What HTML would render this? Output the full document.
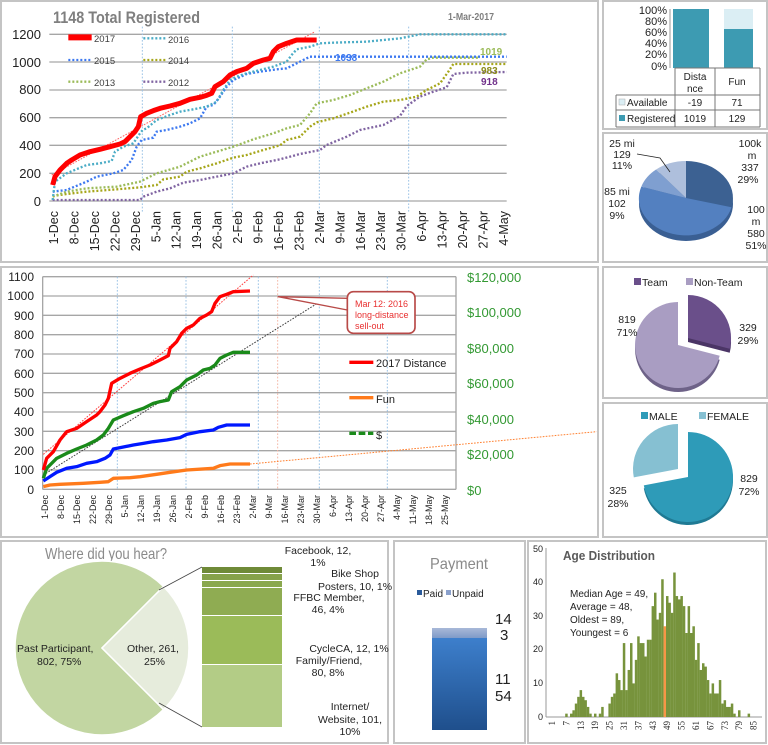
<!DOCTYPE html>
<html><head><meta charset="utf-8"><style>
html,body{margin:0;padding:0;background:#fff;}
svg{display:block;font-family:"Liberation Sans",sans-serif;}
</style></head><body>
<svg id="s" width="768" height="745" viewBox="0 0 768 745" xmlns="http://www.w3.org/2000/svg">
<g fill="none" stroke="#c4c4c4" stroke-width="2">
<rect x="1" y="1" width="597" height="261"/>
<rect x="1" y="267" width="597" height="270"/>
<rect x="603" y="1" width="164" height="128"/>
<rect x="603" y="133" width="164" height="129"/>
<rect x="603" y="267" width="164" height="131"/>
<rect x="603" y="403" width="164" height="134"/>
<rect x="1" y="541" width="387" height="202"/>
<rect x="394" y="541" width="131" height="202"/>
<rect x="528" y="541" width="238" height="202"/>
</g>

<text x="53" y="23" font-size="17" font-weight="bold" fill="#7f7f7f" textLength="147" lengthAdjust="spacingAndGlyphs">1148 Total Registered</text>
<text x="448" y="20" font-size="10" font-weight="bold" fill="#7f7f7f" textLength="46" lengthAdjust="spacingAndGlyphs">1-Mar-2017</text>
<g transform="scale(0.33333)">
 <g stroke="#a6a6a6" stroke-width="4">
  <line x1="148" y1="103" x2="1520" y2="103"/><line x1="148" y1="186" x2="1520" y2="186"/>
  <line x1="148" y1="270" x2="1520" y2="270"/><line x1="148" y1="353" x2="1520" y2="353"/>
  <line x1="148" y1="436" x2="1520" y2="436"/><line x1="148" y1="520" x2="1520" y2="520"/>
  <line x1="148" y1="603" x2="1520" y2="603"/>
 </g>
 <g stroke="#9cc3e6" stroke-width="3" stroke-dasharray="5 5">
  <line x1="427" y1="80" x2="427" y2="640"/><line x1="697" y1="80" x2="697" y2="640"/>
  <line x1="958" y1="80" x2="958" y2="640"/><line x1="1226" y1="80" x2="1226" y2="640"/>
 </g>
 <g fill="none" stroke-width="7" stroke-dasharray="6 6">
  <polyline stroke="#8064a2" points="158,600 420,600 430,590 470,575 510,565 550,548 600,540 650,530 700,520 740,500 780,490 840,478 900,462 960,450 980,435 1040,410 1080,390 1150,375 1200,348 1220,318 1260,290 1300,275 1340,262 1360,222 1400,218 1520,216"/>
  <polyline stroke="#a6a61a" points="158,588 200,582 260,575 350,568 420,562 470,555 490,538 540,530 560,515 600,505 650,490 700,473 740,465 790,450 840,436 860,420 900,410 930,380 950,367 1000,355 1050,338 1100,320 1150,305 1200,300 1250,290 1280,270 1320,250 1345,215 1360,192 1520,192"/>
  <polyline stroke="#9bbb59" points="158,590 200,575 260,565 350,560 420,545 470,520 540,500 600,470 650,455 700,440 760,418 820,400 860,385 900,375 930,340 950,310 1000,300 1050,285 1100,265 1150,245 1200,220 1260,200 1280,178 1300,173 1440,173"/>
  <polyline stroke="#3c78f0" points="158,575 200,570 260,545 290,530 340,520 370,510 395,480 410,440 425,420 460,413 470,395 500,390 540,380 570,370 600,355 620,320 640,315 660,290 680,260 700,240 740,222 780,215 830,208 860,205 900,185 930,170 1520,170"/>
  <polyline stroke="#4bacc6" points="158,600 165,545 200,520 260,495 300,490 335,483 345,455 370,440 400,430 420,400 428,390 440,385 470,360 510,345 540,335 580,328 620,320 650,305 670,270 690,240 710,230 740,220 780,210 820,200 860,185 875,165 890,148 930,140 960,130 1000,128 1100,125 1200,115 1260,103 1520,103"/>
 </g>
 <line x1="155" y1="525" x2="945" y2="95" stroke="#ff6060" stroke-width="3" stroke-dasharray="5 4"/>
 <polyline fill="none" stroke="#ff0000" stroke-width="15" stroke-linejoin="round" points="158,555 165,530 180,510 200,490 215,480 240,465 270,455 300,448 330,440 360,432 375,425 390,410 405,395 415,380 422,350 440,340 460,332 480,325 510,318 540,310 570,298 600,292 620,286 635,280 645,260 670,245 690,225 710,215 740,205 760,190 790,180 810,175 820,155 835,140 860,130 890,120 950,120"/>
 <line x1="205" y1="112" x2="275" y2="112" stroke="#ff0000" stroke-width="18"/>
 <g stroke-width="7" stroke-dasharray="6 6">
  <line x1="430" y1="115" x2="500" y2="115" stroke="#4bacc6"/>
  <line x1="205" y1="180" x2="275" y2="180" stroke="#3c78f0"/>
  <line x1="430" y1="180" x2="500" y2="180" stroke="#a6a61a"/>
  <line x1="205" y1="245" x2="275" y2="245" stroke="#9bbb59"/>
  <line x1="430" y1="245" x2="500" y2="245" stroke="#8064a2"/>
 </g>
</g>
<g font-size="9.5" fill="#404040">
 <text x="94" y="42">2017</text><text x="168" y="43">2016</text>
 <text x="94" y="64">2015</text><text x="168" y="64">2014</text>
 <text x="94" y="86">2013</text><text x="168" y="86">2012</text>
</g>
<g font-size="10" font-weight="bold">
 <text x="335" y="61" fill="#3c78f0">1038</text>
 <text x="480" y="55" fill="#9bbb59">1019</text>
 <text x="481" y="74" fill="#8c8c1a">983</text>
 <text x="481" y="85" fill="#70308a">918</text>
</g>
<g font-size="13" fill="#222" text-anchor="end">
 <text x="41" y="39">1200</text><text x="41" y="67">1000</text><text x="41" y="94">800</text>
 <text x="41" y="122">600</text><text x="41" y="150">400</text><text x="41" y="178">200</text><text x="41" y="206">0</text>
</g>
<g id="topx" font-size="12.5" fill="#222" text-anchor="end"></g>

<g transform="translate(0,265) scale(0.33333)">
 <g stroke="#a6a6a6" stroke-width="4">
  <line x1="128" y1="35" x2="1368" y2="35"/><line x1="128" y1="93" x2="1368" y2="93"/>
  <line x1="128" y1="151" x2="1368" y2="151"/><line x1="128" y1="209" x2="1368" y2="209"/>
  <line x1="128" y1="267" x2="1368" y2="267"/><line x1="128" y1="325" x2="1368" y2="325"/>
  <line x1="128" y1="383" x2="1368" y2="383"/><line x1="128" y1="441" x2="1368" y2="441"/>
  <line x1="128" y1="499" x2="1368" y2="499"/><line x1="128" y1="557" x2="1368" y2="557"/>
  <line x1="128" y1="615" x2="1368" y2="615"/><line x1="128" y1="673" x2="1368" y2="673"/>
  <line x1="128" y1="35" x2="128" y2="673"/><line x1="1368" y1="35" x2="1368" y2="673"/>
 </g>
 <g stroke="#9cc3e6" stroke-width="3" stroke-dasharray="5 5">
  <line x1="352" y1="35" x2="352" y2="673"/><line x1="558" y1="35" x2="558" y2="673"/>
  <line x1="775" y1="35" x2="775" y2="673"/><line x1="958" y1="35" x2="958" y2="673"/>
  <line x1="1162" y1="35" x2="1162" y2="673"/>
 </g>
 <line x1="833" y1="35" x2="833" y2="673" stroke="#f4b8a8" stroke-width="3" stroke-dasharray="5 5"/>
 <line x1="130" y1="568" x2="760" y2="30" stroke="#ff4040" stroke-width="3" stroke-dasharray="5 4"/>
 <line x1="130" y1="630" x2="960" y2="110" stroke="#404040" stroke-width="3" stroke-dasharray="5 4"/>
 <line x1="750" y1="597" x2="1790" y2="500" stroke="#ff8030" stroke-width="3" stroke-dasharray="5 4"/>
 <g fill="none" stroke-width="10" stroke-linejoin="round">
  <polyline stroke="#ff7a1a" points="130,665 150,660 180,658 250,655 300,652 325,650 340,640 390,638 420,635 470,628 510,622 560,615 640,610 660,602 690,597 750,597"/>
  <polyline stroke="#0018ff" points="130,648 150,635 170,622 200,610 230,605 260,595 290,590 315,580 330,570 340,552 370,546 400,540 430,535 460,530 500,525 540,518 560,508 600,500 640,495 655,487 680,480 750,480"/>
  <polyline stroke="#1a8a1a" points="130,640 140,610 170,580 200,565 230,552 260,540 290,525 310,510 325,490 340,465 370,452 400,440 430,430 460,415 480,410 505,405 515,380 540,365 560,345 590,330 610,315 630,310 645,300 660,280 680,270 700,262 750,262"/>
  <polyline stroke="#ff0000" points="130,615 140,580 160,560 180,525 200,500 230,490 260,470 290,450 300,440 315,420 325,400 335,355 360,340 390,325 420,312 450,300 480,285 505,272 510,250 530,230 545,205 560,190 580,180 600,160 620,150 635,140 645,115 660,95 680,88 700,80 750,78"/>
 </g>
 <polygon points="835,95 1042,100 1042,135" fill="#fff" stroke="#b84a48" stroke-width="4" stroke-linejoin="round"/>
 <rect x="1042" y="80" width="203" height="125" rx="18" fill="#fff" stroke="#b84a48" stroke-width="5"/>
 <line x1="1048" y1="292" x2="1120" y2="292" stroke="#ff0000" stroke-width="10"/>
 <line x1="1048" y1="398" x2="1120" y2="398" stroke="#ff7a1a" stroke-width="10"/>
 <line x1="1048" y1="505" x2="1120" y2="505" stroke="#1a8a1a" stroke-width="10" stroke-dasharray="20 8"/>
</g>
<g font-size="9" fill="#e83030">
 <text x="355" y="307">Mar 12: 2016</text><text x="355" y="318">long-distance</text><text x="355" y="329">sell-out</text>
</g>
<g font-size="11" fill="#222">
 <text x="376" y="367">2017 Distance</text><text x="376" y="403">Fun</text><text x="376" y="439">$</text>
</g>
<g font-size="12" fill="#222" text-anchor="end">
 <text x="34" y="281">1100</text><text x="34" y="300">1000</text><text x="34" y="320">900</text>
 <text x="34" y="339">800</text><text x="34" y="358">700</text><text x="34" y="378">600</text>
 <text x="34" y="397">500</text><text x="34" y="416">400</text><text x="34" y="436">300</text>
 <text x="34" y="455">200</text><text x="34" y="474">100</text><text x="34" y="494">0</text>
</g>
<g font-size="13" fill="#339933">
 <text x="467" y="282">$120,000</text><text x="467" y="317">$100,000</text><text x="467" y="353">$80,000</text>
 <text x="467" y="388">$60,000</text><text x="467" y="424">$40,000</text><text x="467" y="459">$20,000</text>
 <text x="467" y="495">$0</text>
</g>
<g id="midx" font-size="9" fill="#222" text-anchor="end"></g>

<g font-size="11" fill="#222" text-anchor="end">
 <text x="667" y="14">100%</text><text x="667" y="25">80%</text><text x="667" y="36">60%</text>
 <text x="667" y="47">40%</text><text x="667" y="58">20%</text><text x="667" y="70">0%</text>
</g>
<line x1="670" y1="9" x2="670" y2="68" stroke="#999"/>
<rect x="673" y="9" width="36" height="59" fill="#3d9bb2"/>
<rect x="724" y="9" width="29" height="20" fill="#dbeef4"/>
<rect x="724" y="29" width="29" height="39" fill="#3d9bb2"/>
<g stroke="#777" stroke-width="1" fill="none">
 <line x1="675" y1="68" x2="760" y2="68"/><line x1="616" y1="95" x2="760" y2="95"/>
 <line x1="616" y1="110" x2="760" y2="110"/><line x1="616" y1="127" x2="760" y2="127"/>
 <line x1="616" y1="95" x2="616" y2="127"/><line x1="675" y1="68" x2="675" y2="127"/>
 <line x1="715" y1="68" x2="715" y2="127"/><line x1="760" y1="68" x2="760" y2="127"/>
</g>
<rect x="619" y="99" width="6" height="6" fill="#dbeef4" stroke="#aaa" stroke-width="0.5"/>
<rect x="619" y="115" width="6" height="6" fill="#3d9bb2"/>
<g font-size="10" fill="#222">
 <text x="627" y="106">Available</text><text x="627" y="122">Registered</text>
 <g text-anchor="middle">
  <text x="695" y="80">Dista</text><text x="695" y="92">nce</text><text x="737" y="85">Fun</text>
  <text x="695" y="106">-19</text><text x="737" y="106">71</text>
  <text x="695" y="122">1019</text><text x="737" y="122">129</text>
 </g>
</g>

<ellipse cx="686" cy="204" rx="47" ry="37" fill="#3a5f93"/>
<path d="M686,198 L686,161 A47,37 0 0 1 731.5,207.2 Z" fill="#3c6192"/>
<path d="M686,198 L731.5,207.2 A47,37 0 1 1 641.3,186.6 Z" fill="#5380c0"/>
<path d="M686,198 L641.3,186.6 A47,37 0 0 1 656.1,169.5 Z" fill="#7f9fd0"/>
<path d="M686,198 L656.1,169.5 A47,37 0 0 1 686,161 Z" fill="#aebfdc"/>
<polyline points="637,154 660,158 670,172" fill="none" stroke="#222" stroke-width="0.8"/>
<g font-size="10.5" fill="#222" text-anchor="middle">
 <text x="622" y="147">25 mi</text><text x="622" y="158">129</text><text x="622" y="169">11%</text>
 <text x="750" y="147">100k</text><text x="752" y="159">m</text><text x="750" y="171">337</text><text x="748" y="183">29%</text>
 <text x="617" y="195">85 mi</text><text x="617" y="207">102</text><text x="617" y="219">9%</text>
 <text x="756" y="213">100</text><text x="756" y="225">m</text><text x="756" y="237">580</text><text x="756" y="249">51%</text>
</g>

<rect x="634" y="278" width="7" height="7" fill="#6a4f8a"/>
<rect x="686" y="278" width="7" height="7" fill="#a99dc2"/>
<g font-size="10.5" fill="#222">
 <text x="642" y="286">Team</text><text x="694" y="286">Non-Team</text>
</g>
<path d="M678,349 L719.7,359.7 A43,43 0 1 1 678,306 Z" fill="#6e6288"/>
<path d="M678,345 L719.7,355.7 A43,43 0 1 1 678,302 Z" fill="#a99dc2"/>
<path d="M688,342 L688,299 A43,43 0 0 1 729.7,352.7 Z" fill="#4b3566"/>
<path d="M688,338 L688,295 A43,43 0 0 1 729.7,348.7 Z" fill="#6a4f8a"/>
<g font-size="10.5" fill="#222" text-anchor="middle">
 <text x="627" y="323">819</text><text x="627" y="336">71%</text>
 <text x="748" y="331">329</text><text x="748" y="344">29%</text>
</g>

<rect x="641" y="412" width="7" height="7" fill="#2e9bb8"/>
<rect x="699" y="412" width="7" height="7" fill="#86c0d2"/>
<g font-size="10.5" fill="#222">
 <text x="649" y="420">MALE</text><text x="707" y="420">FEMALE</text>
</g>
<path d="M688,480 L688,435 A45,45 0 1 1 643.8,488.4 Z" fill="#1f7a94"/>
<path d="M688,477 L688,432 A45,45 0 1 1 643.8,485.4 Z" fill="#2e9bb8"/>
<path d="M678,469 L633.8,477.4 A45,45 0 0 1 678,424 Z" fill="#86c0d2"/>
<g font-size="10.5" fill="#222" text-anchor="middle">
 <text x="749" y="482">829</text><text x="749" y="495">72%</text>
 <text x="618" y="494">325</text><text x="618" y="507">28%</text>
</g>

<text x="45" y="559" font-size="16" fill="#8a8a8a" textLength="122" lengthAdjust="spacingAndGlyphs">Where did you hear?</text>
<path d="M102,648 L163.5,709.5 A87,87 0 1 1 163.5,586.5 Z" fill="#c2d6a2" stroke="#fff" stroke-width="1.5"/>
<path d="M102,648 L163.5,586.5 A87,87 0 0 1 163.5,709.5 Z" fill="#e6ecdc" stroke="#fff" stroke-width="1.5"/>
<line x1="159" y1="590" x2="202" y2="567" stroke="#444" stroke-width="0.8"/>
<line x1="159" y1="703" x2="202" y2="727" stroke="#444" stroke-width="0.8"/>
<rect x="202" y="567" width="80" height="6" fill="#6f8a38"/>
<rect x="202" y="574" width="80" height="6" fill="#86a24a"/>
<rect x="202" y="581" width="80" height="6" fill="#8aa84e"/>
<rect x="202" y="588" width="80" height="27" fill="#8fac52"/>
<rect x="202" y="616" width="80" height="48" fill="#9bbb59"/>
<rect x="202" y="665" width="80" height="62" fill="#b3cc86"/>
<g font-size="10.5" fill="#222">
 <text x="17" y="652">Past Participant,</text><text x="37" y="665">802, 75%</text>
 <text x="127" y="652">Other, 261,</text><text x="144" y="665">25%</text>
 <g text-anchor="middle">
  <text x="318" y="554">Facebook, 12,</text><text x="318" y="566">1%</text>
  <text x="355" y="577">Bike Shop</text><text x="355" y="590">Posters, 10, 1%</text>
  <text x="329" y="601">FFBC Member,</text><text x="328" y="613">46, 4%</text>
  <text x="349" y="652">CycleCA, 12, 1%</text><text x="329" y="664">Family/Friend,</text><text x="328" y="676">80, 8%</text>
  <text x="350" y="710">Internet/</text><text x="350" y="723">Website, 101,</text><text x="350" y="735">10%</text>
 </g>
</g>

<defs>
 <linearGradient id="pg" x1="0" y1="0" x2="0" y2="1"><stop offset="0" stop-color="#3d7fcc"/><stop offset="1" stop-color="#1f4f8c"/></linearGradient>
 <linearGradient id="ug" x1="0" y1="0" x2="0" y2="1"><stop offset="0" stop-color="#a8b8d8"/><stop offset="1" stop-color="#7f9ac8"/></linearGradient>
</defs>
<text x="430" y="569" font-size="16" fill="#8a8a8a" textLength="58" lengthAdjust="spacingAndGlyphs">Payment</text>
<rect x="417" y="590" width="5" height="5" fill="#2a5a9a"/>
<rect x="446" y="590" width="5" height="5" fill="#8aa0cc"/>
<g font-size="10" fill="#222"><text x="423" y="597">Paid</text><text x="452" y="597">Unpaid</text></g>
<rect x="432" y="628" width="55" height="10" fill="url(#ug)"/>
<rect x="432" y="638" width="55" height="92" fill="url(#pg)"/>
<g font-size="15" fill="#222"><text x="495" y="624">14</text><text x="500" y="640">3</text><text x="495" y="684">11</text><text x="495" y="701">54</text></g>

<text x="563" y="560" font-size="13" font-weight="bold" fill="#5a5a5a" textLength="92" lengthAdjust="spacingAndGlyphs">Age Distribution</text>
<g font-size="9" fill="#222" text-anchor="end">
 <text x="543" y="552">50</text><text x="543" y="585">40</text><text x="543" y="619">30</text>
 <text x="543" y="652">20</text><text x="543" y="686">10</text><text x="543" y="720">0</text>
</g>
<line x1="546" y1="548" x2="546" y2="717" stroke="#999"/>
<line x1="546" y1="717" x2="762" y2="717" stroke="#999"/>
<g id="hist"></g>
<g font-size="10" fill="#222">
 <text x="570" y="597">Median Age =  49,</text><text x="570" y="610">Average = 48,</text>
 <text x="570" y="623">Oldest = 89,</text><text x="570" y="636">Youngest = 6</text>
</g>
<g id="agex" font-family="Liberation Serif,serif" font-size="9" fill="#222" text-anchor="end"></g>
</svg>
<script>
(function(){
var NS="http://www.w3.org/2000/svg";
function t(g,x,y,s){var e=document.createElementNS(NS,"text");e.setAttribute("transform","translate("+x+","+y+") rotate(-90)");e.setAttribute("dominant-baseline","central");e.textContent=s;document.getElementById(g).appendChild(e);}
var tl=["1-Dec","8-Dec","15-Dec","22-Dec","29-Dec","5-Jan","12-Jan","19-Jan","26-Jan","2-Feb","9-Feb","16-Feb","23-Feb","2-Mar","9-Mar","16-Mar","23-Mar","30-Mar","6-Apr","13-Apr","20-Apr","27-Apr","4-May"];
tl.forEach(function(s,k){t("topx",54+k*20.45,211,s);});
var ml=tl.concat(["11-May","18-May","25-May"]);
ml.forEach(function(s,k){t("midx",45+k*16,495,s);});
for(var a=1;a<=85;a+=6)t("agex",552+(a-1)*2.4,721,""+a);
var v={7:1,9:1,10:2,11:4,12:6,13:8,14:6,15:5,16:3,17:1,19:1,21:1,22:3,25:4,26:6,27:7,28:13,29:11,30:8,31:22,32:8,33:14,34:22,35:10,36:17,37:24,38:22,39:22,40:18,41:23,42:23,43:33,44:37,45:29,46:31,47:41,48:27,49:36,50:34,51:31,52:43,53:36,54:35,55:36,56:33,57:25,58:33,59:25,60:27,61:17,62:22,63:14,64:16,65:15,66:11,67:7,68:10,69:7,70:7,71:11,72:4,73:5,74:3,75:3,76:4,77:1,79:2,83:1};
var h=document.getElementById("hist");
for(var k in v){var r=document.createElementNS(NS,"rect");var x=552+(k-1)*2.4-1.2,hh=v[k]*3.36;r.setAttribute("x",x);r.setAttribute("y",717-hh);r.setAttribute("width",2.5);r.setAttribute("height",hh);r.setAttribute("fill",k=="48"?"#f79646":"#77933c");h.appendChild(r);}
})();
</script>
</body></html>
